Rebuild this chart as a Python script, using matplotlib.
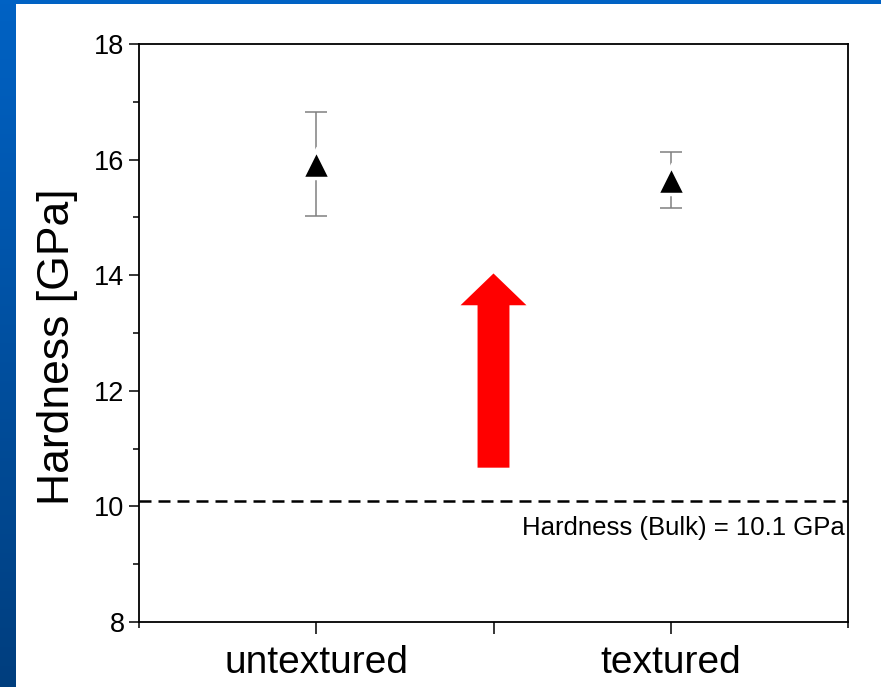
import matplotlib
matplotlib.use('Agg')
import matplotlib.pyplot as plt
import numpy as np

plt.rcParams['font.family'] = ['Liberation Sans', 'DejaVu Sans']

# data
samples = ['untextured', 'textured']
xpos = [1, 3]
hardness = [15.93, 15.65]
hardness_err = [0.90, 0.49]
bulk = 10.1
bulk_label = 'Hardness (Bulk) = 10.1 GPa'

fig = plt.figure(figsize=(8.81, 6.87), dpi=100)
fig.patch.set_facecolor('white')

### blue slide border (left and top)
grad = np.linspace(0, 1, 256).reshape(-1, 1)
cmap = matplotlib.colors.LinearSegmentedColormap.from_list('slide', ['#0062c4', '#003e7e'])
bl = fig.add_axes([0, 0, 16/881, 1])
bl.imshow(grad, aspect='auto', cmap=cmap)
bl.axis('off')
bt = fig.add_axes([0, 1 - 4/687, 1, 4/687])
bt.axis('off')
bt.add_patch(plt.Rectangle((0, 0), 1, 1, color='#0062c4', transform=bt.transAxes))

ax = fig.add_axes([139/881, 65/687, 709/881, 578/687])

ax.errorbar(xpos, hardness, yerr=hardness_err, fmt='none', ecolor='#808080',
            elinewidth=1.1, capsize=8, capthick=1.1, zorder=2)
ax.plot(xpos, hardness, '^', color='black', ms=20, mec='white', mew=2.5, zorder=3)

ax.axhline(bulk, color='black', lw=1.8, dashes=[4.8, 2.8], zorder=1)
ax.text(3.98, 9.63, bulk_label, ha='right', va='center', fontsize=18.5)

# red arrow
ax.arrow(2, 10.67, 0, 14.03 - 10.67, width=0.18, head_width=0.372, head_length=0.55,
         length_includes_head=True, color='#ff0000', ec='none', zorder=2)

ax.set_xlim(0, 4)
ax.set_ylim(8, 18)
ax.set_xticks([1, 2, 3])
ax.set_xticklabels([samples[0], '', samples[1]], fontsize=28)
ax.set_xticks([0, 4], minor=True)
ax.set_yticks(np.arange(8, 19, 2))
ax.set_yticks(np.arange(9, 18, 2), minor=True)
ax.tick_params(axis='y', which='major', length=7.5, width=1.1, labelsize=19.5, pad=3)
ax.tick_params(axis='y', which='minor', length=4.5, width=1.1)
ax.tick_params(axis='x', which='major', length=8.5, width=1.1, pad=8)
ax.tick_params(axis='x', which='minor', length=4, width=1.1)
for s in ax.spines.values():
    s.set_linewidth(1.3)

ax.set_ylabel('Hardness [GPa]', fontsize=32)
ax.yaxis.set_label_coords(-0.086, 0.476)

fig.savefig('out.png', dpi=100)
